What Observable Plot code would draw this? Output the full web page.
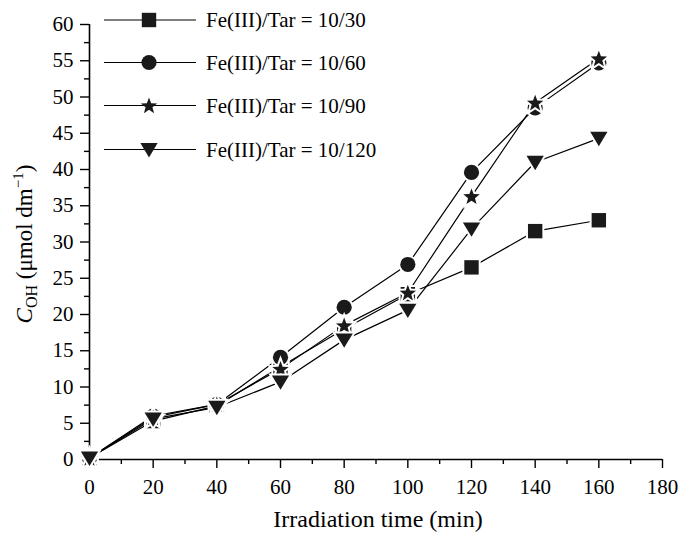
<!DOCTYPE html>
<html>
<head>
<meta charset="utf-8">
<script src="https://cdn.jsdelivr.net/npm/d3@7"></script>
<script src="https://cdn.jsdelivr.net/npm/@observablehq/plot@0.6"></script>
<style>
  html, body { margin: 0; padding: 0; background: white; }
  #chart { width: 679px; height: 533px; }
</style>
</head>
<body>
<div id="chart"></div>
<script>
// ---- data ----
const times = [0, 20, 40, 60, 80, 100, 120, 140, 160];
const seriesLabels = ["Fe(III)/Tar = 10/30", "Fe(III)/Tar = 10/60", "Fe(III)/Tar = 10/90", "Fe(III)/Tar = 10/120"];
const ratio30  = [0.2, 5.3, 7.4, 12.8, 18.0, 22.8, 26.5, 31.5, 33.0];
const ratio60  = [0.2, 6.0, 7.6, 14.1, 21.0, 26.9, 39.6, 48.5, 54.7];
const ratio90  = [0.2, 5.8, 7.6, 12.5, 18.5, 23.0, 36.3, 49.2, 55.3];
const ratio120 = [0.2, 5.6, 7.2, 10.7, 16.5, 20.6, 31.8, 41.0, 44.3];
const xTicks = [0, 20, 40, 60, 80, 100, 120, 140, 160, 180];
const yTicks = [0, 5, 10, 15, 20, 25, 30, 35, 40, 45, 50, 55, 60];

// ---- custom symbols (size = pi*r^2) ----
const rOf = s => Math.sqrt(s / Math.PI);
const symSquare = {draw(c, s) { const h = rOf(s) * 0.9; c.moveTo(-h, -h); c.lineTo(h, -h); c.lineTo(h, h); c.lineTo(-h, h); c.closePath(); }};
const symCircle = {draw(c, s) { const r = rOf(s) * 0.95; c.moveTo(r, 0); c.arc(0, 0, r, 0, 2 * Math.PI); c.closePath(); }};
const symStar = {draw(c, s) {
  const R = rOf(s) * 1.08, ri = R * 0.42;
  for (let i = 0; i < 10; i++) {
    const a = -Math.PI / 2 + i * Math.PI / 5, rr = i % 2 ? ri : R;
    const x = rr * Math.cos(a), y = rr * Math.sin(a) + R * 0.08;
    i ? c.lineTo(x, y) : c.moveTo(x, y);
  }
  c.closePath();
}};
const symTriDown = {draw(c, s) {
  const r = rOf(s), w = r * 1.08, h = r * 1.8;
  c.moveTo(-w, -h * 0.45); c.lineTo(w, -h * 0.45); c.lineTo(0, h * 0.55); c.closePath();
}};

const seriesValues = [ratio30, ratio60, ratio90, ratio120];
const seriesSymbols = [symSquare, symCircle, symStar, symTriDown];
const R = 8;

const rows = [];
seriesValues.forEach((vals, k) => vals.forEach((v, i) => rows.push({t: times[i], c: v, s: seriesLabels[k], k})));

const lineMarks = seriesLabels.map((lab, k) =>
  Plot.line(rows.filter(d => d.k === k), {x: "t", y: "c", stroke: "black", strokeWidth: 1.2}));
const dotMarks = seriesLabels.map((lab, k) =>
  Plot.dot(rows.filter(d => d.k === k), {x: "t", y: "c", r: R, symbol: () => seriesSymbols[k], fill: "#1a1a1a", stroke: "white", strokeWidth: 4, paintOrder: "stroke"}));

const font = "Liberation Serif, Times New Roman, serif";
const chart = Plot.plot({
  width: 679, height: 533,
  marginLeft: 89, marginRight: 17, marginTop: 24, marginBottom: 74,
  style: {fontFamily: font, fontSize: "21px", color: "black", background: "white"},
  x: {domain: [0, 180]},
  y: {domain: [0, 60]},
  symbol: {type: "identity"},
  marks: [
    Plot.axisX({ticks: xTicks, tickSize: 9, tickPadding: 11, label: null, strokeWidth: 1.4, fontSize: 21}),
    Plot.axisX({ticks: d3.range(10, 180, 20), tickSize: 5, text: null, label: null, strokeWidth: 1.4}),
    Plot.axisY({ticks: yTicks, tickSize: 9, tickPadding: 7, label: null, strokeWidth: 1.4, fontSize: 21}),
    Plot.axisY({ticks: d3.range(2.5, 60, 5), tickSize: 5, text: null, label: null, strokeWidth: 1.4}),
    Plot.ruleY([0], {strokeWidth: 1.6}),
    Plot.ruleX([0], {strokeWidth: 1.6}),
    ...lineMarks,
    ...dotMarks
  ]
});
document.getElementById("chart").appendChild(chart);

// ---- titles and legend ----
const svg = d3.select(chart);
svg.append("text").attr("x", 378).attr("y", 527).attr("text-anchor", "middle")
  .attr("font-family", font).attr("font-size", 24).attr("fill", "black").text("Irradiation time (min)");

const yl = svg.append("text").attr("transform", "translate(32,244) rotate(-90)").attr("text-anchor", "middle")
  .attr("font-family", font).attr("font-size", 23).attr("fill", "black");
yl.append("tspan").attr("font-style", "italic").text("C");
yl.append("tspan").attr("font-size", 16).attr("dy", 5).text("OH");
yl.append("tspan").attr("dy", -5).text(" (μmol dm");
yl.append("tspan").attr("font-size", 15).attr("dy", -9).text("−1");
yl.append("tspan").attr("dy", 9).text(")");

const legendY = [20, 62.5, 105.5, 149.5];
const lg = svg.append("g");
seriesLabels.forEach((lab, k) => {
  const y = legendY[k];
  lg.append("line").attr("x1", 104).attr("x2", 196).attr("y1", y).attr("y2", y).attr("stroke", "black").attr("stroke-width", 1.2);
  lg.append("path").attr("transform", `translate(149,${y})`).attr("d", d3.symbol(seriesSymbols[k], Math.PI * R * R)())
    .attr("fill", "#1a1a1a");
  lg.append("text").attr("x", 206).attr("y", y).attr("dy", "0.35em").attr("text-anchor", "start")
    .attr("font-family", font).attr("font-size", 21).attr("fill", "black").text(lab);
});
</script>
</body>
</html>
